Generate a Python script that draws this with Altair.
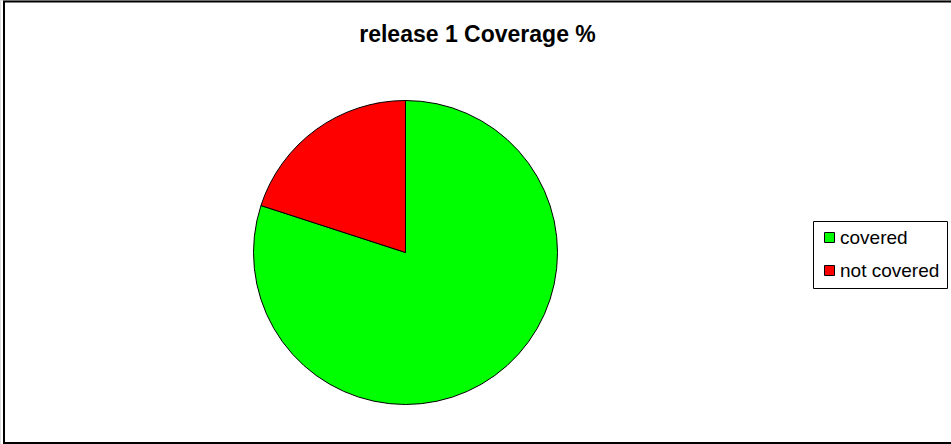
import altair as alt
import pandas as pd

categories = ["covered", "not covered"]
values = [80, 20]
colors = ["#00FF00", "#FF0000"]
title_text = ["release 1 Coverage %"]

pie_df = pd.DataFrame({"status": categories, "value": values,
                       "order": list(range(len(categories)))})
title_df = pd.DataFrame({"t": title_text})

frame = alt.Chart(title_df).mark_rect(fill=None, stroke="black", strokeWidth=2).encode(
    x=alt.value(4), x2=alt.value(970), y=alt.value(1.5), y2=alt.value(443)
)

pie = alt.Chart(pie_df).mark_arc(stroke="black", strokeWidth=1, radius=152).encode(
    theta=alt.Theta("value:Q", stack=True),
    order=alt.Order("order:Q"),
    color=alt.Color(
        "status:N",
        scale=alt.Scale(domain=categories, range=colors),
        legend=alt.Legend(
            title=None,
            orient="none",
            legendX=813,
            legendY=221,
            symbolType="square",
            symbolSize=100,
            symbolStrokeColor="black",
            symbolStrokeWidth=1,
            labelFont="Liberation Sans",
            labelFontSize=19,
            labelColor="black",
            labelOffset=1,
            rowPadding=13,
            padding=7,
            strokeColor="black",
            fillColor="white",
            cornerRadius=0,
        ),
    ),
    x=alt.value(405.5),
    y=alt.value(252.5),
)

title = alt.Chart(title_df).mark_text(
    font="Liberation Sans", fontSize=23, fontWeight="bold", color="black",
    align="center", baseline="alphabetic"
).encode(text="t:N", x=alt.value(477.5), y=alt.value(42))

chart = alt.layer(frame, pie, title).properties(
    width=951, height=444, autosize=alt.AutoSizeParams(type="none"), padding=0
).configure_view(stroke=None).configure(background="white")

chart.save("out.html", embed_options={"renderer": "svg", "actions": False})
